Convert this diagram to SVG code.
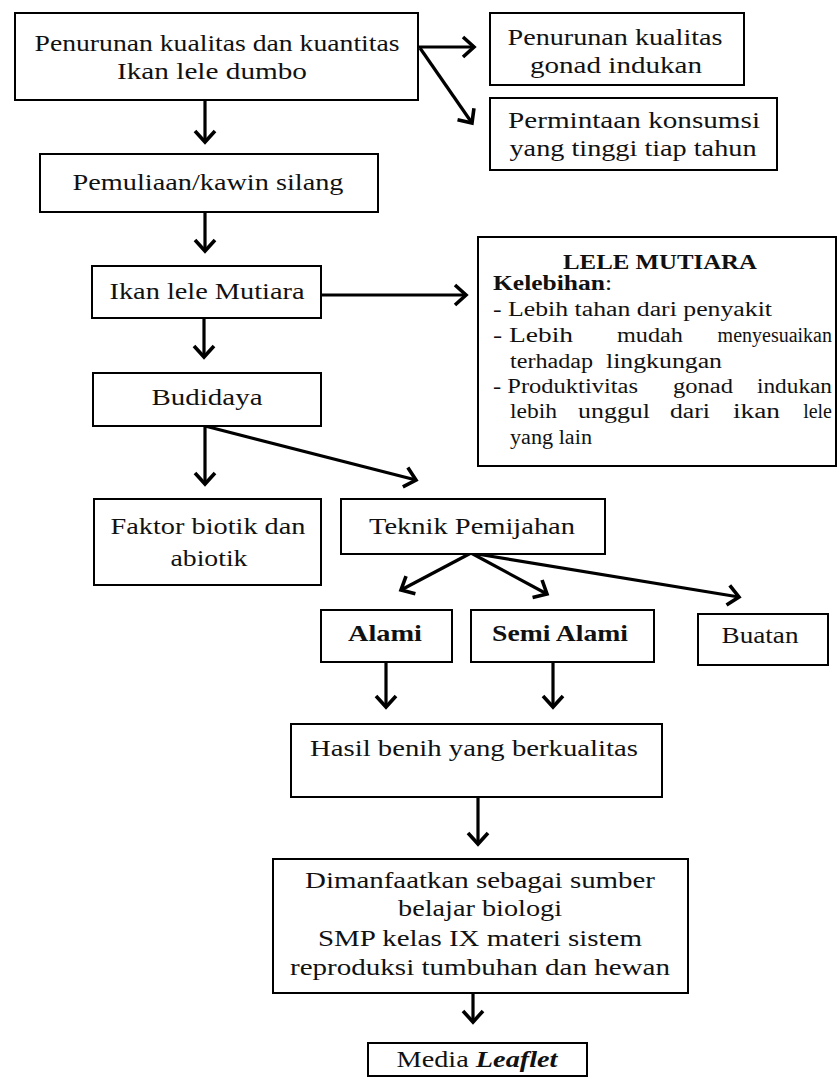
<svg xmlns="http://www.w3.org/2000/svg" width="839" height="1084" viewBox="0 0 839 1084">
<style>
.box{fill:#fff;stroke:#000;stroke-width:2}
text{font-family:"Liberation Serif","Times New Roman",serif;font-size:23.5px;fill:#111}
.c{text-anchor:middle}
.e{text-anchor:end}
.s{font-size:20px}
.b{font-weight:bold}
.con line{stroke:#000;stroke-width:3.2;marker-end:url(#ah)}
</style>
<defs>
<marker id="ah" markerUnits="userSpaceOnUse" markerWidth="30" markerHeight="30" viewBox="-15 -15 30 30" refX="0" refY="0" orient="auto">
<path d="M-11,-10 L0,0 L-11,10" fill="none" stroke="#000" stroke-width="3.6" stroke-linejoin="miter"/>
</marker>
</defs>
<rect width="839" height="1084" fill="#fff"/>
<g id="connectors" class="con">
<line x1="205" y1="100" x2="205" y2="142"/>
<line x1="205" y1="212" x2="205" y2="251"/>
<line x1="204" y1="318" x2="204" y2="357"/>
<line x1="205" y1="426" x2="205" y2="484"/>
<line x1="205" y1="426" x2="416" y2="480"/>
<line x1="418" y1="47" x2="474" y2="47"/>
<line x1="420" y1="48" x2="472" y2="123"/>
<line x1="321" y1="295" x2="466" y2="295"/>
<line x1="471" y1="553" x2="401" y2="590"/>
<line x1="471" y1="553" x2="547" y2="594"/>
<line x1="471" y1="553" x2="739" y2="597"/>
<line x1="386" y1="662" x2="386" y2="707"/>
<line x1="553" y1="662" x2="553" y2="707"/>
<line x1="478" y1="797" x2="478" y2="844"/>
<line x1="473" y1="993" x2="473" y2="1022"/>
</g>
<g id="n1"><rect class="box" x="15" y="13" width="403" height="87"/>
<text class="c" x="217" y="51" textLength="365" lengthAdjust="spacingAndGlyphs">Penurunan kualitas dan kuantitas</text>
<text class="c" x="212" y="79" textLength="190" lengthAdjust="spacingAndGlyphs">Ikan lele dumbo</text></g>
<g id="n2"><rect class="box" x="490" y="13" width="254" height="72"/>
<text class="c" x="615" y="45" textLength="215" lengthAdjust="spacingAndGlyphs">Penurunan kualitas</text>
<text class="c" x="616" y="73" textLength="172" lengthAdjust="spacingAndGlyphs">gonad indukan</text></g>
<g id="n3"><rect class="box" x="490" y="98" width="287" height="72"/>
<text class="c" x="634" y="128" textLength="252" lengthAdjust="spacingAndGlyphs">Permintaan konsumsi</text>
<text class="c" x="633" y="156" textLength="247" lengthAdjust="spacingAndGlyphs">yang tinggi tiap tahun</text></g>
<g id="n4"><rect class="box" x="40" y="154" width="338" height="58"/>
<text class="c" x="208" y="190" textLength="271" lengthAdjust="spacingAndGlyphs">Pemuliaan/kawin silang</text></g>
<g id="n5"><rect class="box" x="92" y="266" width="229" height="52"/>
<text class="c" x="207" y="299" textLength="195" lengthAdjust="spacingAndGlyphs">Ikan lele Mutiara</text></g>
<g id="n6"><rect class="box" x="478" y="237" width="358" height="229"/>
<text class="c s b" x="660" y="269" textLength="194" lengthAdjust="spacingAndGlyphs">LELE MUTIARA</text>
<text class="s" x="493" y="290" textLength="119" lengthAdjust="spacingAndGlyphs"><tspan class="b">Kelebihan</tspan>:</text>
<text class="s" x="493" y="316" textLength="279" lengthAdjust="spacingAndGlyphs">- Lebih tahan dari penyakit</text>
<text class="s" x="493" y="342" textLength="80" lengthAdjust="spacingAndGlyphs">- Lebih</text>
<text class="s" x="617" y="342" textLength="66" lengthAdjust="spacingAndGlyphs">mudah</text>
<text class="s e" x="832" y="342">menyesuaikan</text>
<text class="s" x="510" y="368" textLength="83" lengthAdjust="spacingAndGlyphs">terhadap</text>
<text class="s" x="606" y="368" textLength="116" lengthAdjust="spacingAndGlyphs">lingkungan</text>
<text class="s" x="493" y="393" textLength="145" lengthAdjust="spacingAndGlyphs">- Produktivitas</text>
<text class="s" x="673" y="393" textLength="60" lengthAdjust="spacingAndGlyphs">gonad</text>
<text class="s" x="757" y="393" textLength="75" lengthAdjust="spacingAndGlyphs">indukan</text>
<text class="s" x="510" y="418" textLength="47" lengthAdjust="spacingAndGlyphs">lebih</text>
<text class="s" x="578" y="418" textLength="72" lengthAdjust="spacingAndGlyphs">unggul</text>
<text class="s" x="670" y="418" textLength="40" lengthAdjust="spacingAndGlyphs">dari</text>
<text class="s" x="733" y="418" textLength="47" lengthAdjust="spacingAndGlyphs">ikan</text>
<text class="s e" x="832" y="418">lele</text>
<text class="s" x="510" y="444" textLength="82" lengthAdjust="spacingAndGlyphs">yang lain</text></g>
<g id="n7"><rect class="box" x="93" y="373" width="228" height="53"/>
<text class="c" x="207" y="405" textLength="111" lengthAdjust="spacingAndGlyphs">Budidaya</text></g>
<g id="n8"><rect class="box" x="94" y="499" width="227" height="86"/>
<text class="c" x="208" y="534" textLength="195" lengthAdjust="spacingAndGlyphs">Faktor biotik dan</text>
<text class="c" x="209" y="566" textLength="77" lengthAdjust="spacingAndGlyphs">abiotik</text></g>
<g id="n9"><rect class="box" x="341" y="499" width="264" height="55"/>
<text class="c" x="472" y="534" textLength="206" lengthAdjust="spacingAndGlyphs">Teknik Pemijahan</text></g>
<g id="n10"><rect class="box" x="321" y="610" width="131" height="52"/>
<text class="c b" x="385" y="641" textLength="74" lengthAdjust="spacingAndGlyphs">Alami</text></g>
<g id="n11"><rect class="box" x="471" y="610" width="183" height="52"/>
<text class="c b" x="560" y="641" textLength="136" lengthAdjust="spacingAndGlyphs">Semi Alami</text></g>
<g id="n12"><rect class="box" x="698" y="614" width="130" height="51"/>
<text class="c" x="760" y="643" textLength="77" lengthAdjust="spacingAndGlyphs">Buatan</text></g>
<g id="n13"><rect class="box" x="291" y="724" width="371" height="73"/>
<text class="c" x="474" y="756" textLength="328" lengthAdjust="spacingAndGlyphs">Hasil benih yang berkualitas</text></g>
<g id="n14"><rect class="box" x="273" y="859" width="415" height="134"/>
<text class="c" x="480" y="888" textLength="350" lengthAdjust="spacingAndGlyphs">Dimanfaatkan sebagai sumber</text>
<text class="c" x="480" y="916" textLength="164" lengthAdjust="spacingAndGlyphs">belajar biologi</text>
<text class="c" x="480" y="946" textLength="324" lengthAdjust="spacingAndGlyphs">SMP kelas IX materi sistem</text>
<text class="c" x="480" y="975" textLength="380" lengthAdjust="spacingAndGlyphs">reproduksi tumbuhan dan hewan</text></g>
<g id="n15"><rect class="box" x="368" y="1043" width="219" height="33"/>
<text class="c" x="477" y="1067" textLength="161" lengthAdjust="spacingAndGlyphs">Media <tspan font-weight="bold" font-style="italic">Leaflet</tspan></text></g>
</svg>
